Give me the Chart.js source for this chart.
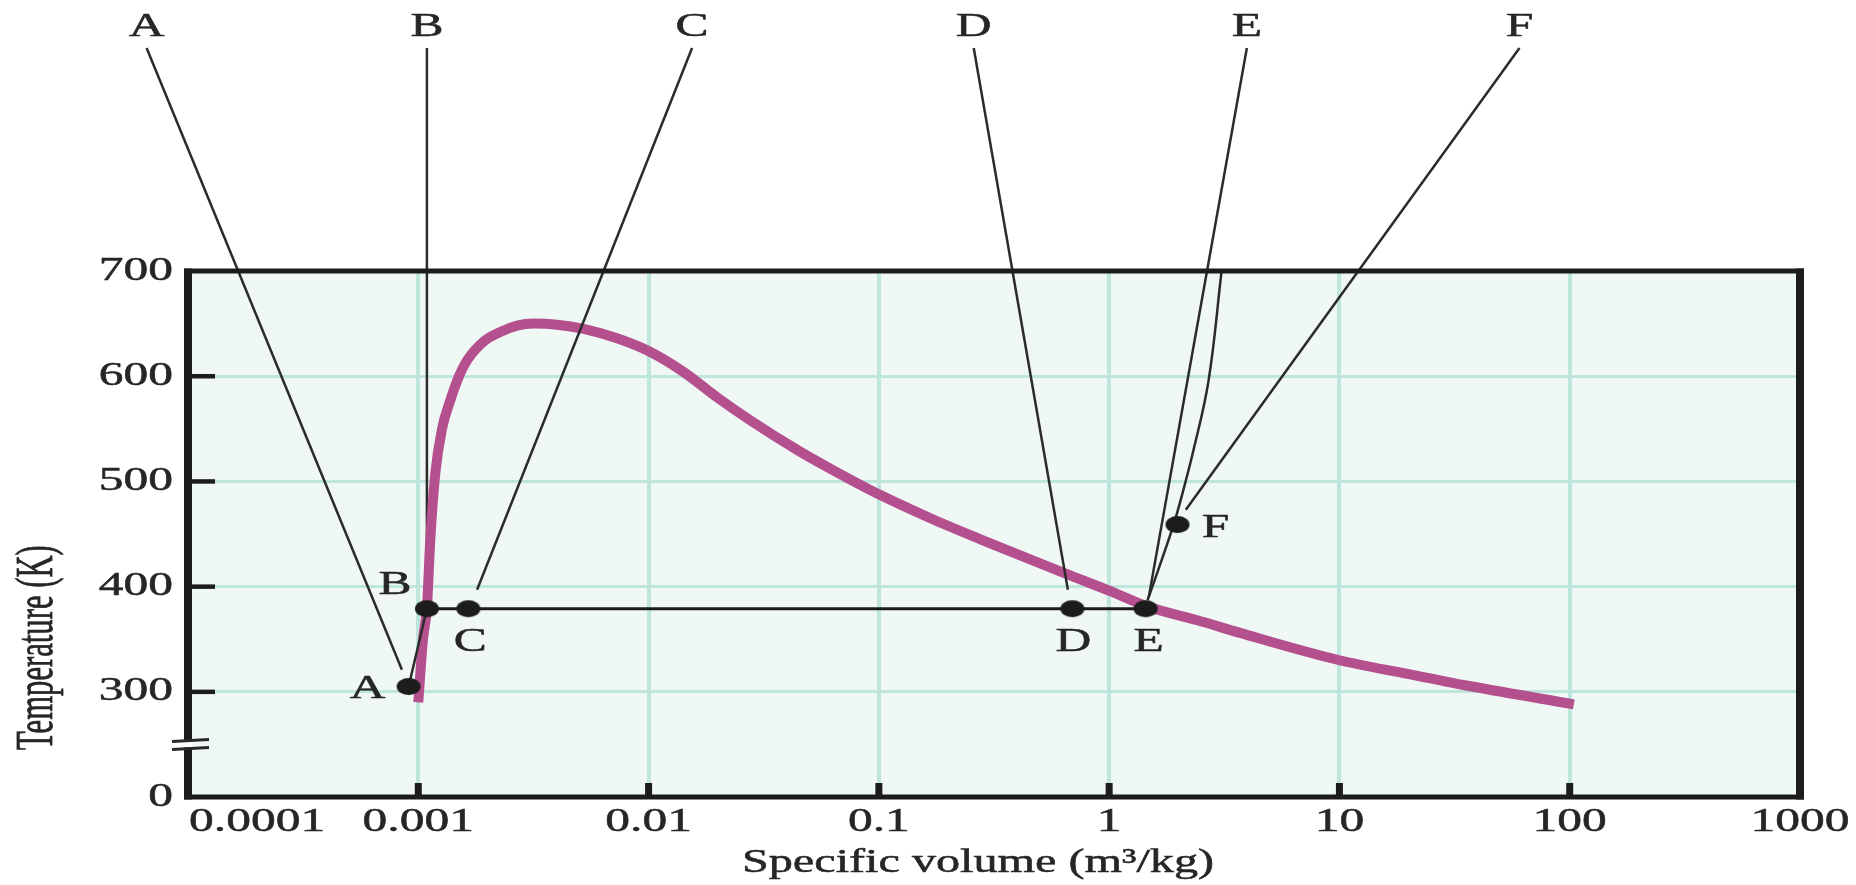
<!DOCTYPE html>
<html>
<head>
<meta charset="utf-8">
<title>Temperature vs specific volume</title>
<script src="https://cdn.jsdelivr.net/npm/chart.js@4.4.1/dist/chart.umd.min.js"></script>
<style>
  html, body { margin: 0; padding: 0; background: #ffffff; }
  #wrap { width: 1856px; height: 885px; position: relative; }
</style>
</head>
<body>
<div id="wrap"><canvas id="chart"></canvas></div>
<script>
// Axis ticks
const xTicks = [0.0001, 0.001, 0.01, 0.1, 1, 10, 100, 1000];
const xTickLabels = ['0.0001', '0.001', '0.01', '0.1', '1', '10', '100', '1000'];
const yTicks = [200, 300, 400, 500, 600, 700];
const yTickLabels = ['0', '300', '400', '500', '600', '700'];

// Saturation dome (pink curve)
const domeVolume = [0.00100, 0.001047, 0.001091, 0.001127, 0.001186, 0.001268, 0.001377, 0.001496,
  0.001629, 0.001923, 0.002270, 0.002685, 0.003170, 0.00400, 0.005224, 0.007295, 0.01019, 0.01419,
  0.01982, 0.02767, 0.04416, 0.0617, 0.1016, 0.1675, 0.2761, 0.6353, 1.030, 1.466, 2.415, 3.70,
  10.0, 19.77, 37.67, 104.2];
const domeTemp = [290, 349, 381, 444, 508, 550, 577, 599,
  615, 633, 642, 648, 650, 649, 645, 636, 623, 604,
  580, 558, 530, 512, 487, 465, 445, 413, 395, 381, 368, 356,
  330, 317, 305, 288];

// States A-F
const stateNames = ['A', 'B', 'C', 'D', 'E', 'F'];
const stateVolume = [0.000908, 0.00109, 0.00165, 0.692, 1.44, 1.98];
const stateTemp = [305, 379, 379, 379, 379, 459];

// Leader lines: from under the letters at the top down to each state
const leaderTopVolume = [0.0000661, 0.00109, 0.01545, 0.2582, 3.963, 60.53];
const leaderTopTemp = [912, 912, 912, 912, 912, 912];
const leaderEndVolume = [0.000849, 0.00109, 0.0018, 0.662, 1.486, 2.153];
const leaderEndTemp = [321, 379, 397, 397, 390, 473];

// Second line under E: from the top of the plot past F down to E
const ePathVolume = [3.078, 2.703, 2.326, 2.043, 1.905, 1.689, 1.468];
const ePathTemp = [700, 596, 530, 482, 459, 425, 387];

// Where the temperature axis is broken
const axisBreakAt = 250;

// Colours and text settings
const pink = '#b5508f';
const gridColor = '#bfe6dd';
const plotBg = '#f0f8f5';
const ink = '#1c1c1c';
const leaderColor = '#2b2b2b';
const textColor = '#262626';
const font = '33px "Liberation Serif", "Times New Roman", serif';
const stretch = 1.5;

// offsets (pixels) of the state letters from their dots
const stateLabelOffset = [[-41, 11], [-32, -15], [2, 42], [1, 42], [3, 42], [38, 12]];

function pts(xs, ys) {
  return xs.map(function (x, i) { return { x: x, y: ys[i] }; });
}

// Elliptical black dot, the picture is a bit wider than tall
var dot = document.createElement('canvas');
dot.width = 26;
dot.height = 19;
var dctx = dot.getContext('2d');
dctx.fillStyle = ink;
dctx.beginPath();
dctx.ellipse(13, 9.5, 12, 8.5, 0, 0, Math.PI * 2);
dctx.fill();

// Draw text stretched sideways like the scanned figure
function wideText(ctx, text, x, y, align, baseline, sx) {
  ctx.save();
  ctx.font = font;
  ctx.fillStyle = textColor;
  ctx.strokeStyle = textColor;
  ctx.lineWidth = 0.5;
  ctx.textAlign = align;
  ctx.textBaseline = baseline;
  ctx.translate(x, y);
  ctx.scale(sx || stretch, 1);
  ctx.fillText(text, 0, 0);
  ctx.strokeText(text, 0, 0);
  ctx.restore();
}

// Plot background under the grid
const backgroundPlugin = {
  id: 'plotBackground',
  beforeDraw: function (chart) {
    const a = chart.chartArea;
    const ctx = chart.ctx;
    ctx.save();
    ctx.fillStyle = plotBg;
    ctx.fillRect(a.left, a.top, a.right - a.left, a.bottom - a.top);
    ctx.restore();
  }
};

// Frame, inner tick marks, axis break and all text
const framePlugin = {
  id: 'frame',
  afterDraw: function (chart) {
    const a = chart.chartArea;
    const ctx = chart.ctx;
    const xs = chart.scales.x;
    const ys = chart.scales.y;
    ctx.save();
    ctx.fillStyle = ink;
    // frame: sides thicker than top and bottom
    ctx.fillRect(a.left - 4, a.top - 2.5, 8, a.bottom - a.top + 5);
    ctx.fillRect(a.right - 4, a.top - 2.5, 8, a.bottom - a.top + 5);
    ctx.fillRect(a.left - 4, a.top - 2.5, a.right - a.left + 8, 5);
    ctx.fillRect(a.left - 4, a.bottom - 2.5, a.right - a.left + 8, 5);

    // tick marks pointing inward
    yTicks.slice(1, -1).forEach(function (v) {
      const py = ys.getPixelForValue(v);
      ctx.fillRect(a.left + 4, py - 2.2, 23, 4.5);
    });
    xTicks.slice(1, -1).forEach(function (v) {
      const px = xs.getPixelForValue(v);
      ctx.fillRect(px - 3.5, a.bottom - 14, 7, 12);
    });

    // axis break on the left edge
    const yb = ys.getPixelForValue(axisBreakAt);
    ctx.fillStyle = '#ffffff';
    ctx.fillRect(a.left - 5, yb - 3, 10, 6);
    ctx.strokeStyle = '#2a2a2a';
    ctx.lineWidth = 3;
    ctx.beginPath();
    ctx.moveTo(a.left - 16, yb - 3);
    ctx.lineTo(a.left + 21, yb - 5);
    ctx.moveTo(a.left - 16, yb + 5);
    ctx.lineTo(a.left + 21, yb + 3);
    ctx.stroke();
    ctx.restore();

    // tick labels
    yTicks.forEach(function (v, i) {
      wideText(ctx, yTickLabels[i], a.left - 15, ys.getPixelForValue(v), 'right', 'middle');
    });
    xTicks.forEach(function (v, i) {
      const px = xs.getPixelForValue(v);
      if (i === 0) {
        wideText(ctx, xTickLabels[i], a.left + 1, a.bottom + 25, 'left', 'middle');
      } else {
        wideText(ctx, xTickLabels[i], px, a.bottom + 25, 'center', 'middle');
      }
    });

    // axis titles
    wideText(ctx, 'Specific volume (m³/kg)', (a.left + a.right) / 2 - 16,
      a.bottom + 75, 'center', 'alphabetic', 1.46);
    ctx.save();
    ctx.font = font;
    ctx.fillStyle = textColor;
    ctx.strokeStyle = textColor;
    ctx.lineWidth = 0.5;
    ctx.textAlign = 'center';
    ctx.textBaseline = 'middle';
    ctx.translate(38, ys.getPixelForValue(342));
    ctx.rotate(-Math.PI / 2);
    ctx.scale(0.93, 1.6);
    ctx.fillText('Temperature (K)', 0, 0);
    ctx.strokeText('Temperature (K)', 0, 0);
    ctx.restore();

    // letters at the top of the leader lines and next to the dots
    stateNames.forEach(function (name, i) {
      const tx = xs.getPixelForValue(leaderTopVolume[i]);
      const ty = ys.getPixelForValue(leaderTopTemp[i]);
      wideText(ctx, name, tx, ty - 12, 'center', 'alphabetic');
      const px = xs.getPixelForValue(stateVolume[i]);
      const py = ys.getPixelForValue(stateTemp[i]);
      const off = stateLabelOffset[i];
      wideText(ctx, name, px + off[0], py + off[1], 'center', 'alphabetic');
    });
  }
};

// Build the datasets (lower order is drawn on top)
var datasets = [];

datasets.push({
  label: 'States',
  data: pts(stateVolume, stateTemp),
  showLine: false,
  pointStyle: dot,
  pointRadius: 10,
  order: 0
});

datasets.push({
  label: 'B to E',
  data: pts([stateVolume[1], stateVolume[4]], [stateTemp[1], stateTemp[4]]),
  showLine: true,
  borderColor: ink,
  borderWidth: 3,
  pointRadius: 0,
  order: 1
});

datasets.push({
  label: 'A to B',
  data: pts(stateVolume.slice(0, 2), stateTemp.slice(0, 2)),
  showLine: true,
  borderColor: leaderColor,
  borderWidth: 2.5,
  pointRadius: 0,
  order: 2
});

for (var i = 0; i < stateNames.length; i++) {
  datasets.push({
    label: 'Leader ' + stateNames[i],
    data: pts([leaderTopVolume[i], leaderEndVolume[i]], [leaderTopTemp[i], leaderEndTemp[i]]),
    showLine: true,
    borderColor: leaderColor,
    borderWidth: 2.5,
    pointRadius: 0,
    clip: false,
    // the B line runs behind the pink curve
    order: stateNames[i] === 'B' ? 6 : 2
  });
}

datasets.push({
  label: 'E path',
  data: pts(ePathVolume, ePathTemp),
  showLine: true,
  borderColor: leaderColor,
  borderWidth: 2.5,
  pointRadius: 0,
  tension: 0.4,
  order: 2
});

datasets.push({
  label: 'Saturation dome',
  data: pts(domeVolume, domeTemp),
  showLine: true,
  borderColor: pink,
  borderWidth: 10,
  borderCapStyle: 'butt',
  pointRadius: 0,
  cubicInterpolationMode: 'monotone',
  order: 5
});

var ctx = document.getElementById('chart').getContext('2d');
var chart = new Chart(ctx, {
  type: 'scatter',
  data: { datasets: datasets },
  options: {
    responsive: true,
    maintainAspectRatio: false,
    animation: false,
    events: [],
    layout: { padding: { left: 188, right: 56, top: 271, bottom: 88 } },
    plugins: {
      legend: { display: false },
      tooltip: { enabled: false }
    },
    scales: {
      x: {
        type: 'logarithmic',
        min: 0.0001,
        max: 1000,
        afterBuildTicks: function (axis) {
          axis.ticks = xTicks.map(function (v) { return { value: v }; });
        },
        ticks: { display: false },
        grid: { color: gridColor, lineWidth: 4, drawTicks: false },
        border: { display: false }
      },
      y: {
        type: 'linear',
        min: 200,
        max: 700,
        afterBuildTicks: function (axis) {
          axis.ticks = yTicks.map(function (v) { return { value: v }; });
        },
        ticks: { display: false },
        grid: { color: gridColor, lineWidth: 3, drawTicks: false },
        border: { display: false }
      }
    }
  },
  plugins: [backgroundPlugin, framePlugin]
});
</script>
</body>
</html>
